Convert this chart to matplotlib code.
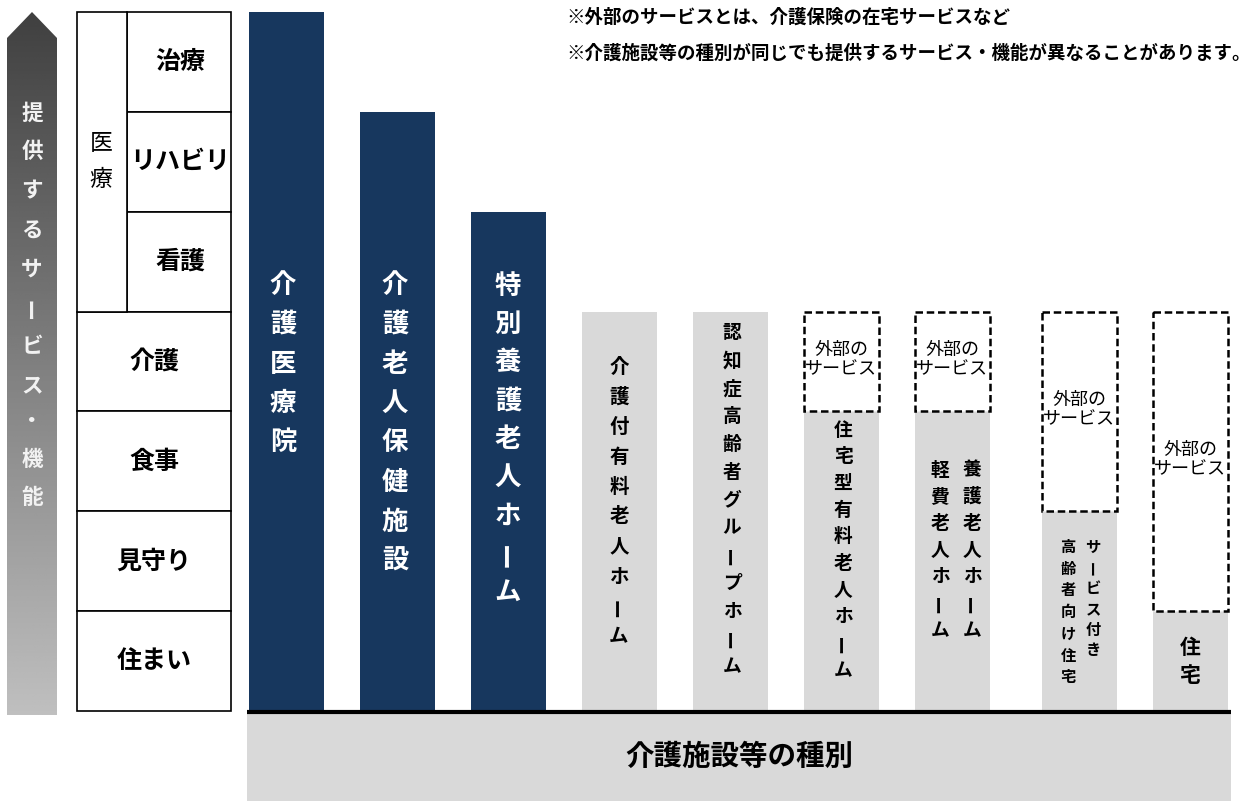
"""介護施設等の種別ごとに提供するサービス・機能を示す図。"""

import matplotlib

matplotlib.use("Agg")
import matplotlib.pyplot as plt  # noqa: E402
import numpy as np  # noqa: E402
from matplotlib.patches import Polygon, Rectangle  # noqa: E402

plt.rcParams["font.family"] = ["Noto Sans CJK JP", "DejaVu Sans"]

# ---- データ ----
services = ["治療", "リハビリ", "看護", "介護", "食事", "見守り", "住まい"]
medical_group = "医療"
facility_labels = [
    ["介護医療院"],
    ["介護老人保健施設"],
    ["特別養護老人ホーム"],
    ["介護付有料老人ホーム"],
    ["認知症高齢者グループホーム"],
    ["住宅型有料老人ホーム"],
    ["養護老人ホーム", "軽費老人ホーム"],
    ["サービス付き", "高齢者向け住宅"],
    ["住宅"],
]
levels = [7, 6, 5, 4, 4, 3, 3, 2, 1]          # 施設自身が提供する段数
external_top = [0, 0, 0, 0, 0, 4, 4, 4, 4]    # 外部サービスで補う上限
is_facility = [True, True, True, False, False, False, False, False, False]
external_label = "外部の\nサービス"
axis_label = "提供するサービス・機能"
bottom_label = "介護施設等の種別"
notes = [
    "※外部のサービスとは、介護保険の在宅サービスなど",
    "※介護施設等の種別が同じでも提供するサービス・機能が異なることがあります。",
]

# ---- レイアウト（ピクセル座標） ----
W, H = 1251, 801
BASE, UNIT = 711, 99.86
NAVY, GRAY = "#17375E", "#D9D9D9"
bar_cx = [286, 397, 508, 619, 730, 841, 952, 1079, 1190]
bar_w = 75
# 各棒の縦書き: (列のxオフセット, 開始y, 文字間隔), フォントサイズ
text_cols = [
    [(-3, 285, 39.5)], [(-2, 285, 39.5)], [(0, 286, 38.3)],
    [(0, 367, 30)], [(2, 333, 27.8)], [(2, 430, 26.7)],
    [(20, 470, 26.7), (-12, 470, 26.7)],
    [(14, 547, 20.7), (-11, 547, 21.7)],
    [(0, 648, 27)],
]
text_fs = [19, 19, 19, 14, 13.5, 13.5, 13.5, 11, 15]


def lv(n):
    return BASE - n * UNIT


fig = plt.figure(figsize=(W / 100, H / 100), dpi=100, facecolor="white")
ax = fig.add_axes([0, 0, 1, 1])
ax.set_xlim(0, W)
ax.set_ylim(H, 0)
ax.set_axis_off()


def vtext(x, y0, step, s, **kw):
    for i, ch in enumerate(s):
        rot = 90 if ch == "ー" else 0
        ax.text(x, y0 + i * step, ch, rotation=rot, ha="center",
                va="center", **kw)


# 左の矢印（グラデーション）
arrow = Polygon([(7, 715), (7, 38), (32, 12), (57, 38), (57, 715)],
                closed=True, facecolor="none", edgecolor="none")
ax.add_patch(arrow)
grad = np.linspace(0.25, 0.75, 256).reshape(-1, 1)
img = ax.imshow(grad, cmap="gray", vmin=0, vmax=1, aspect="auto",
                extent=(7, 57, 715, 12), zorder=1)
img.set_clip_path(arrow)
ax.set_xlim(0, W)
ax.set_ylim(H, 0)
arrow_y = [113, 152, 191, 230, 269, 308, 347, 386, 421, 460, 497]
for ch, y in zip(axis_label, arrow_y):
    ax.text(32, y, ch, rotation=90 if ch == "ー" else 0, ha="center",
            va="center", color="#F2F2F2", fontsize=15.5, fontweight="bold",
            zorder=3)

# 左の表
for i, name in enumerate(services):
    top = lv(7 - i)
    x0 = 127 if i < 3 else 77
    ax.add_patch(Rectangle((x0, top), 231 - x0, UNIT, facecolor="white",
                           edgecolor="black", linewidth=1.2, zorder=2))
    ax.text((x0 + 231) / 2 + (1 if i < 3 else 0), top + UNIT / 2, name,
            ha="center", va="center", fontsize=18, fontweight="bold",
            zorder=3)
ax.add_patch(Rectangle((77, lv(7)), 50, 3 * UNIT, facecolor="white",
                       edgecolor="black", linewidth=1.2, zorder=2))
vtext(101, 143, 37, medical_group, fontsize=16.5, zorder=3)

# 棒
for i, cx in enumerate(bar_cx):
    color = NAVY if is_facility[i] else GRAY
    ax.bar(cx, -levels[i] * UNIT, bottom=BASE, width=bar_w, color=color,
           zorder=2)
    if external_top[i]:
        ax.add_patch(Rectangle((cx - bar_w / 2, lv(external_top[i])), bar_w,
                               (external_top[i] - levels[i]) * UNIT,
                               facecolor="white", edgecolor="black",
                               linewidth=1.8, linestyle=(0, (3, 1.5)),
                               zorder=3))
        ax.text(cx, (lv(external_top[i]) + lv(levels[i])) / 2 - 2,
                external_label, ha="center", va="center", fontsize=13,
                linespacing=1.05, zorder=4)
    tcolor = "white" if is_facility[i] else "black"
    for label, (dx, y0, step) in zip(facility_labels[i], text_cols[i]):
        vtext(cx + dx, y0, step, label, fontsize=text_fs[i],
              fontweight="bold", color=tcolor, zorder=4)

# 下部の帯
ax.add_patch(Rectangle((247, 714), 1231 - 247, H - 714, facecolor=GRAY,
                       edgecolor="none", zorder=1))
ax.plot([247, 1231], [712, 712], color="black", linewidth=3,
        solid_capstyle="butt", zorder=5)
ax.text(739, 757, bottom_label, ha="center", va="center", fontsize=20.5,
        fontweight="bold", zorder=4)

# 注記
for y, note in zip([17, 53], notes):
    ax.text(566, y, note, ha="left", va="center", fontsize=13.3,
            fontweight="bold")

fig.savefig("out.png", dpi=100, facecolor="white")
plt.close(fig)
